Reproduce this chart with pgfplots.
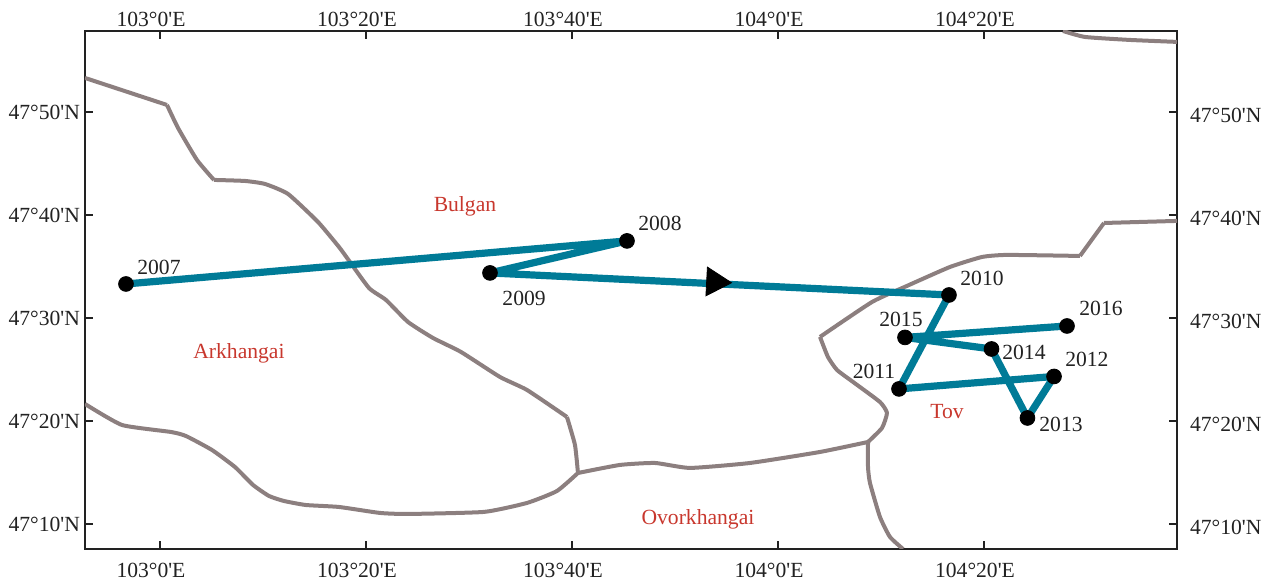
\documentclass[border=0pt]{standalone}
\usepackage{fontspec}
\setmainfont{Liberation Serif}[Ligatures=TeXOff]
\usepackage{pgfplots}
\pgfplotsset{compat=1.18}
\definecolor{bnd}{HTML}{8C7F7F}
\definecolor{track}{HTML}{007B97}
\definecolor{redl}{HTML}{C8372D}
\definecolor{ink}{HTML}{222222}
\pgfplotsset{mapaxis/.style={
  scale only axis, width=546pt, height=259pt,
  xmin=-7.28, xmax=98.74, ymin=7.57, ymax=57.86,
  xtick={0,20,40,60,80},
  xticklabels={{103°0'E},{103°20'E},{103°40'E},{104°0'E},{104°20'E}},
  ytick={10,20,30,40,50},
  yticklabels={{47°10'N},{47°20'N},{47°30'N},{47°40'N},{47°50'N}},
  tick align=inside, xtick pos=both, ytick pos=both,
  major tick length=4pt,
  tick style={ink,line width=0.6pt},
  axis line style={ink,line width=1pt},
  tick label style={font=\fontsize{10.8}{12}\selectfont,text=ink},
},
bline/.style={bnd,line width=2pt,line join=round,smooth,tension=0.3}}
\begin{document}
\begin{tikzpicture}
\useasboundingbox (-42.5pt,-16pt) rectangle (594pt,274.5pt);
\begin{axis}[mapaxis, xticklabel pos=top, yticklabel pos=right,
  xticklabel style={xshift=-4.5pt,yshift=-1.5pt},
  yticklabel style={xshift=3pt,yshift=-1.5pt}]
\end{axis}
\begin{axis}[mapaxis, xticklabel pos=bottom, yticklabel pos=left,
  xticklabel style={xshift=-4.5pt,yshift=-3.5pt},
  yticklabel style={xshift=1pt}]
\addplot[bline] coordinates {(-7.28,53.30)(0.68,50.68)};
\addplot[bline] coordinates {(0.68,50.68)(1.75,48.45)(3.59,45.34)(5.24,43.40)};
\addplot[bline] coordinates {
(5.24,43.40)(8.25,43.30)(10.19,43.01)(12.43,42.04)(15.34,39.32)(17.38,36.89)(18.16,35.83)(20.29,32.91)(21.94,31.75)(24.08,29.61)(26.50,28.06)(29.22,26.70)(33.01,24.27)(35.63,23.01)(39.51,20.39)};
\addplot[bline] coordinates {(39.51,20.39)(40.29,17.67)(40.58,14.95)};
\addplot[bline] coordinates {
(-7.28,21.65)(-3.69,19.61)(1.07,18.93)(2.52,18.54)(5.05,17.18)(7.28,15.53)(9.03,13.79)(10.58,12.72)(12.04,12.23)(14.17,11.84)(17.38,11.65)(21.36,11.07)(24.08,10.97)(31.46,11.17)(35.63,12.04)(38.54,13.20)(40.58,14.95)};
\addplot[bline] coordinates {
(40.58,14.95)(44.66,15.73)(48.06,15.92)(51.46,15.44)(57.28,15.92)(64.08,16.99)(68.74,17.96)};
\addplot[bline] coordinates {
(68.74,17.96)(70.10,19.32)(70.58,20.78)(69.90,21.84)(67.28,23.79)(65.73,24.95)(64.85,26.21)(64.08,28.16)};
\addplot[bline] coordinates {
(64.08,28.16)(69.13,31.55)(72.52,33.11)(76.70,34.95)(79.81,35.92)(82.23,36.12)(89.32,36.02)};
\addplot[bline] coordinates {(89.32,36.02)(91.65,39.22)};
\addplot[bline] coordinates {(91.65,39.22)(98.74,39.42)};
\addplot[bline] coordinates {
(68.74,17.96)(68.74,15.53)(68.93,13.98)(69.90,10.68)(70.87,8.74)(72.14,7.57)};
\addplot[bline] coordinates {
(87.67,57.86)(89.81,57.28)(94.17,56.99)(98.74,56.80)};
\addplot[track,line width=3.6pt,line join=round] coordinates {
(-3.30,33.30)(45.34,37.48)(32.04,34.37)(76.60,32.23)(71.75,23.11)(86.80,24.32)(84.22,20.29)(80.73,26.99)(72.33,28.11)(88.06,29.22)};
\addplot[only marks,mark=*,mark size=3.7pt,mark options={fill=black,draw=none}] coordinates {
(-3.30,33.30)(45.34,37.48)(32.04,34.37)(76.60,32.23)(71.75,23.11)(86.80,24.32)(84.22,20.29)(80.73,26.99)(72.33,28.11)(88.06,29.22)};
\addplot[only marks,mark=triangle*,mark size=8.3pt,mark options={rotate=-93,fill=black,draw=none}] coordinates {(53.88,33.50)};
\begin{scope}[every node/.style={font=\fontsize{10.8}{12}\selectfont,text=ink,inner sep=0pt}]
\node at (axis cs:-0.10,34.95) {2007};
\node at (axis cs:48.54,39.13) {2008};
\node at (axis cs:35.35,31.94) {2009};
\node at (axis cs:79.81,33.88) {2010};
\node at (axis cs:91.36,30.97) {2016};
\node at (axis cs:71.94,29.90) {2015};
\node at (axis cs:83.88,26.70) {2014};
\node at (axis cs:89.99,26.02) {2012};
\node at (axis cs:69.32,24.85) {2011};
\node at (axis cs:87.48,19.71) {2013};
\node[text=redl] at (axis cs:29.61,40.82) {Bulgan};
\node[text=redl] at (axis cs:7.67,26.55) {Arkhangai};
\node[text=redl] at (axis cs:76.41,20.87) {Tov};
\node[text=redl] at (axis cs:52.23,10.43) {Ovorkhangai};
\end{scope}
\end{axis}
\end{tikzpicture}
\end{document}
